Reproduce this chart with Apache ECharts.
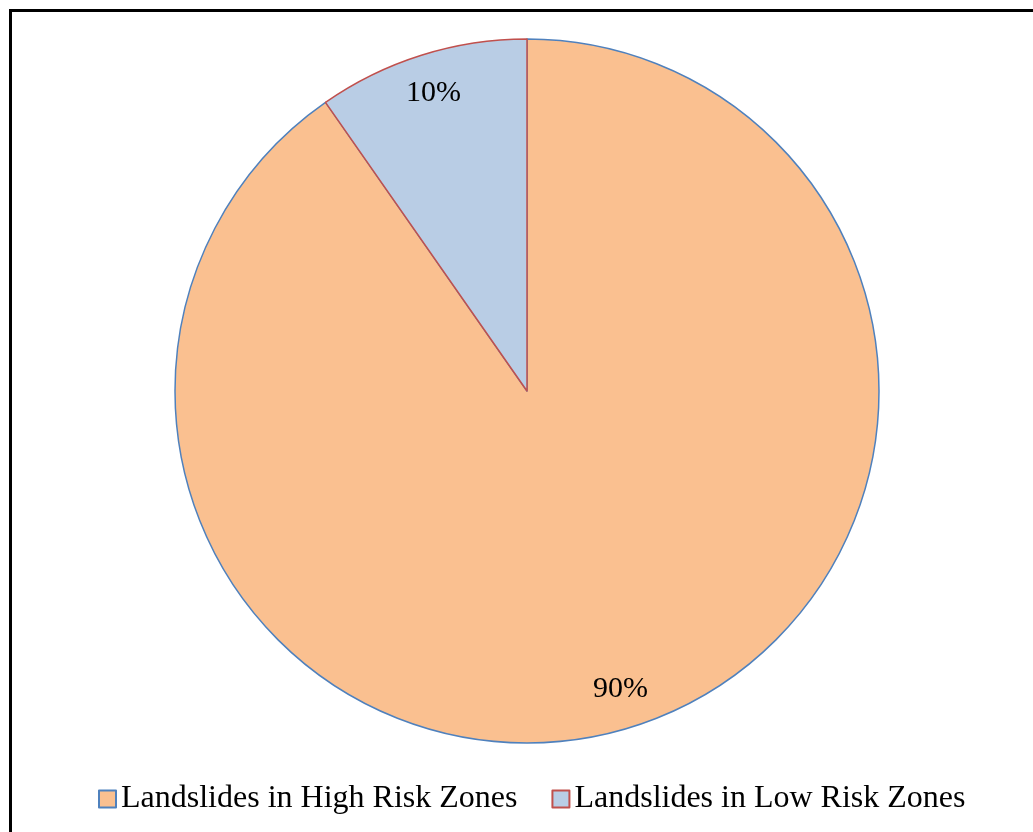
<!DOCTYPE html>
<html>
<head>
<meta charset="utf-8">
<script src="https://cdn.jsdelivr.net/npm/echarts@6/dist/echarts.min.js"></script>
<style>
  html, body { margin: 0; padding: 0; background: #fff; }
  #chart { width: 1033px; height: 832px; }
  .frame {
    position: absolute; left: 9px; top: 9px;
    width: 1100px; height: 900px;
    border: 3px solid #000; box-sizing: border-box;
    pointer-events: none;
  }
</style>
</head>
<body>
<div id="chart"></div>
<div class="frame"></div>
<script>
  const names = ['Landslides in High Risk Zones', 'Landslides in Low Risk Zones'];
  const values = [90.3, 9.7];
  const fills = ['#FAC090', '#B9CDE5'];
  const borders = ['#4F81BD', '#C0504D'];

  const pieData = names.map((n, i) => ({
    name: n,
    value: values[i],
    itemStyle: { color: fills[i], borderColor: borders[i], borderWidth: 1.5 }
  }));
  // transparent ring, only used to carry the labels near the rim
  const labelData = names.map((n, i) => ({ name: n, value: values[i] }));

  const chart = echarts.init(document.getElementById('chart'));
  chart.setOption({
    backgroundColor: '#fff',
    animation: false,
    legend: {
      bottom: 12,
      left: 93,
      data: names,
      icon: 'rect',
      itemWidth: 17,
      itemHeight: 17,
      itemGap: 34,
      textStyle: { fontFamily: 'Liberation Serif', fontSize: 32, color: '#000' }
    },
    series: [
      {
        type: 'pie',
        center: [527, 391],
        radius: 352,
        startAngle: 90,
        clockwise: true,
        label: { show: false },
        labelLine: { show: false },
        emphasis: { disabled: true },
        data: pieData
      },
      {
        type: 'pie',
        center: [527, 391],
        radius: [266, 352],
        startAngle: 90,
        clockwise: true,
        silent: true,
        legendHoverLink: false,
        percentPrecision: 0,
        itemStyle: { color: 'rgba(0,0,0,0)', borderWidth: 0 },
        label: {
          show: true,
          position: 'inside',
          formatter: '{d}%',
          fontFamily: 'Liberation Serif',
          fontSize: 30,
          color: '#000'
        },
        labelLine: { show: false },
        emphasis: { disabled: true },
        data: labelData
      }
    ]
  });
</script>
</body>
</html>
